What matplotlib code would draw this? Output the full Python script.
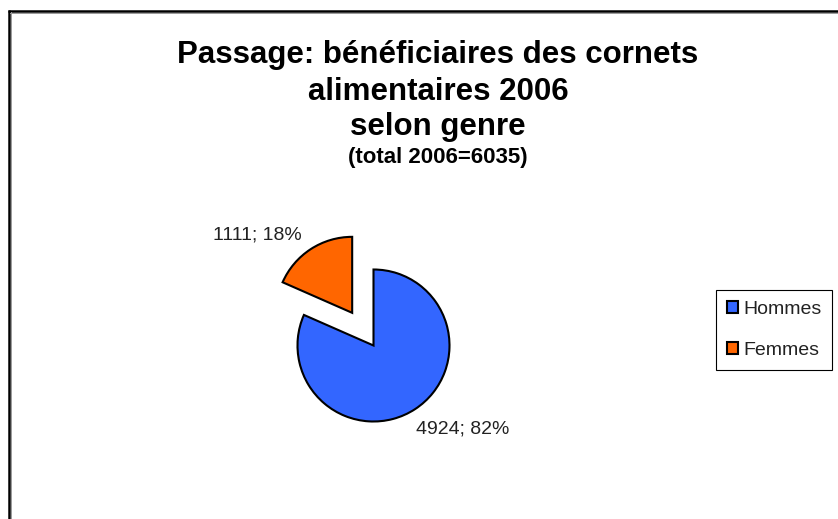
"""Pie chart: passage des bénéficiaires des cornets alimentaires 2006 selon genre."""
import matplotlib
matplotlib.use("Agg")
import matplotlib.pyplot as plt

plt.rcParams["font.family"] = ["Liberation Sans", "DejaVu Sans"]

# data
categories = ["Hommes", "Femmes"]
values = [4924, 1111]
colors = ["#3366ff", "#ff6600"]
title_lines = ["Passage: bénéficiaires des cornets", "alimentaires 2006", "selon genre"]
subtitle = "(total 2006=6035)"

W, H = 838, 519
total = sum(values)
labels = [f"{v}; {round(100 * v / total)}%" for v in values]

fig = plt.figure(figsize=(W / 100, H / 100), dpi=100)
ax = fig.add_axes([0, 0, 1, 1])

# pie in pixel-like data units (y up)
cx, cy, r = 373.5, H - 345.5, 76
wedges, texts = ax.pie(values, colors=colors, labels=labels, startangle=90,
                       counterclock=False, radius=r, center=(cx, cy),
                       explode=[0, 39], labeldistance=1.22,
                       wedgeprops=dict(edgecolor="black", linewidth=1.5),
                       textprops=dict(fontsize=14, color="#222222"))
# pie picks alignment from absolute x; fix it relative to the pie centre
for t in texts:
    t.set_ha("left" if t.get_position()[0] > cx else "right")
x0, y0 = texts[0].get_position()
texts[0].set_position((x0 - 8, y0 - 6))

ax.set_xlim(0, W)
ax.set_ylim(0, H)
ax.set_aspect("equal")
ax.axis("off")

# title
for txt, base in zip(title_lines, [63, 99.5, 135.5]):
    ax.text(438, H - base, txt, ha="center", va="baseline",
            fontsize=22.5, fontweight="bold")
ax.text(438, H - 163, subtitle, ha="center", va="baseline",
        fontsize=16, fontweight="bold")

# legend
leg = ax.legend(wedges, categories, loc="upper left",
                bbox_to_anchor=(716 / W, 1 - 290 / H), borderaxespad=0,
                fontsize=14, frameon=True, fancybox=False, framealpha=1,
                edgecolor="black", handlelength=0.6, handleheight=0.6,
                handletextpad=0.25, labelspacing=1.25, borderpad=0.55)
leg.get_frame().set_linewidth(0.8)
for t in leg.get_texts():
    t.set_color("#222222")

# chart-area border (top and left edges only are visible)
ax.plot([8, W], [H - 11, H - 11], color="black", lw=1.8, solid_capstyle="butt")
ax.plot([9, 9], [0, H - 10], color="black", lw=1.8, solid_capstyle="butt")
ax.plot([10, W], [H - 12.8, H - 12.8], color="#999999", lw=0.7)
ax.plot([10.8, 10.8], [0, H - 12], color="#999999", lw=0.7)

fig.savefig("out.png", dpi=100)
